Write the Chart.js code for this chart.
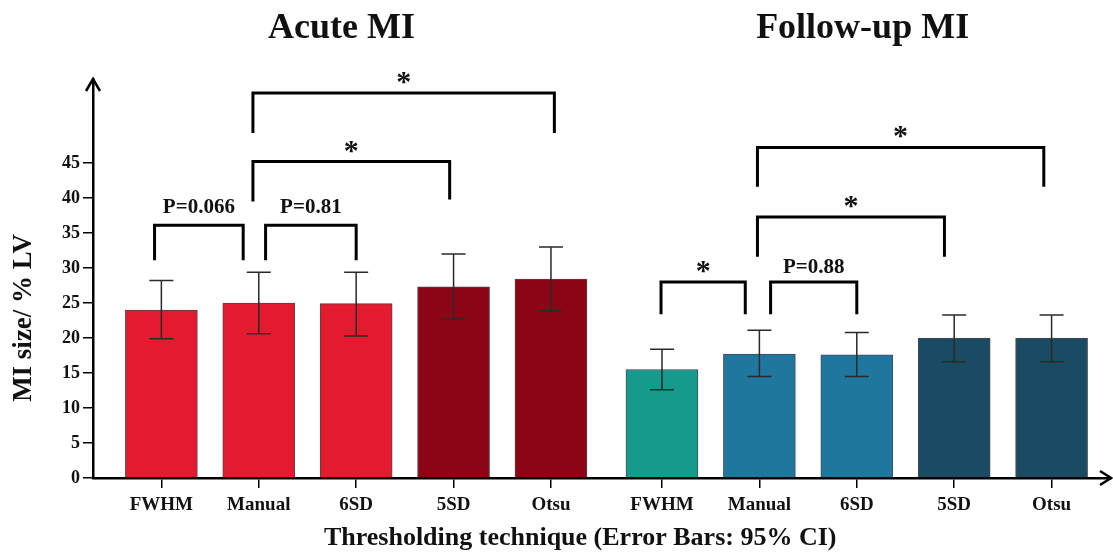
<!DOCTYPE html>
<html>
<head>
<meta charset="utf-8">
<title>MI size</title>
<script src="https://cdn.jsdelivr.net/npm/chart.js@4.4.0/dist/chart.umd.min.js"></script>
<style>
  body { margin: 0; background: #fff; }
  #wrap { width: 1113px; height: 557px; }
</style>
</head>
<body>
<div id="wrap"><canvas id="chart"></canvas></div>
<script>
// values
var techniques = ["FWHM", "Manual", "6SD", "5SD", "Otsu"];
var groupTitles = ["Acute MI", "Follow-up MI"];
var xTitle = "Thresholding technique (Error Bars: 95% CI)";
var yTitle = "MI size/ % LV";

var acuteMean = [24.0, 25.0, 24.9, 27.3, 28.4];
var acuteLow  = [19.9, 20.6, 20.3, 22.7, 23.9];
var acuteHigh = [28.2, 29.4, 29.4, 32.0, 33.0];

var followMean = [15.5, 17.7, 17.6, 20.0, 20.0];
var followLow  = [12.6, 14.5, 14.5, 16.6, 16.6];
var followHigh = [18.4, 21.1, 20.8, 23.3, 23.3];

var yTicks = [0, 5, 10, 15, 20, 25, 30, 35, 40, 45];

// significance brackets: group, from bar, to bar, label
var sigLabels = [
  [0, 0, 1, "P=0.066"],
  [0, 1, 2, "P=0.81"],
  [0, 1, 3, "*"],
  [0, 1, 4, "*"],
  [1, 0, 1, "*"],
  [1, 1, 2, "P=0.88"],
  [1, 1, 3, "*"],
  [1, 1, 4, "*"]
];
// bracket geometry (shift of the ends in bar slots, heights in axis units)
var sigShape = [
  { s1: -0.07, s2: -0.16, top: 36.1, end1: 31.1, end2: 31.1, text: 38.7 },
  { s1: 0.07,  s2: 0.0,   top: 36.1, end1: 31.1, end2: 31.1, text: 38.7 },
  { s1: -0.06, s2: -0.04, top: 45.2, end1: 39.5, end2: 39.8, text: 47.1 },
  { s1: -0.06, s2: 0.035, top: 55.0, end1: 49.3, end2: 49.3, text: 57.0 },
  { s1: -0.01, s2: -0.145, top: 28.0, end1: 23.4, end2: 23.4, text: 30.0 },
  { s1: 0.115, s2: 0.0,   top: 28.0, end1: 23.4, end2: 23.4, text: 30.0 },
  { s1: -0.02, s2: -0.1,  top: 37.3, end1: 31.6, end2: 31.6, text: 39.3 },
  { s1: -0.02, s2: -0.08, top: 47.2, end1: 41.6, end2: 41.6, text: 49.2 }
];

var GROUP_SHIFT = 5.14;   // second panel starts a bit more than one slot later
var SERIF = '"Liberation Serif", "Times New Roman", serif';

var acuteColors = ["#e41b2e", "#e41b2e", "#e41b2e", "#8c0517", "#8c0517"];
var followColors = ["#17998c", "#1f77a0", "#1f77a0", "#1b4b63", "#1b4b63"];

function posOf(g, i) { return i + (g === 1 ? GROUP_SHIFT : 0); }

var lows = [acuteLow, followLow];
var highs = [acuteHigh, followHigh];

var tickPos = [];
var tickText = [];
[0, 1].forEach(function (g) {
  techniques.forEach(function (t, i) { tickPos.push(posOf(g, i)); tickText.push(t); });
});

function points(g, arr) {
  return arr.map(function (v, i) { return { x: posOf(g, i), y: v }; });
}

var overlay = {
  id: 'overlay',
  afterDatasetsDraw: function (chart) {
    var ctx = chart.ctx, xs = chart.scales.x, ys = chart.scales.y;
    ctx.save();
    ctx.strokeStyle = '#2a2a2a';
    ctx.lineWidth = 1.5;
    [0, 1].forEach(function (g) {
      lows[g].forEach(function (lo, i) {
        var x = xs.getPixelForValue(posOf(g, i));
        var y1 = ys.getPixelForValue(lo), y2 = ys.getPixelForValue(highs[g][i]);
        ctx.beginPath();
        ctx.moveTo(x, y1); ctx.lineTo(x, y2);
        ctx.moveTo(x - 12, y1); ctx.lineTo(x + 12, y1);
        ctx.moveTo(x - 12, y2); ctx.lineTo(x + 12, y2);
        ctx.stroke();
      });
    });
    ctx.restore();
  },
  afterDraw: function (chart) {
    var ctx = chart.ctx, xs = chart.scales.x, ys = chart.scales.y, a = chart.chartArea;
    ctx.save();
    // axis arrows
    ctx.strokeStyle = '#000';
    ctx.lineWidth = 2.5;
    ctx.beginPath();
    ctx.moveTo(a.left - 7, a.top + 12); ctx.lineTo(a.left, a.top); ctx.lineTo(a.left + 7, a.top + 12);
    ctx.moveTo(a.right - 11, a.bottom - 7); ctx.lineTo(a.right, a.bottom); ctx.lineTo(a.right - 11, a.bottom + 7);
    ctx.stroke();

    // significance brackets
    ctx.lineWidth = 3;
    ctx.lineJoin = 'miter';
    ctx.fillStyle = '#111';
    ctx.textAlign = 'center';
    sigLabels.forEach(function (b, k) {
      var s = sigShape[k];
      var x1 = xs.getPixelForValue(posOf(b[0], b[1]) + s.s1);
      var x2 = xs.getPixelForValue(posOf(b[0], b[2]) + s.s2);
      var yt = ys.getPixelForValue(s.top);
      ctx.beginPath();
      ctx.moveTo(x1, ys.getPixelForValue(s.end1));
      ctx.lineTo(x1, yt);
      ctx.lineTo(x2, yt);
      ctx.lineTo(x2, ys.getPixelForValue(s.end2));
      ctx.stroke();
      var ty = ys.getPixelForValue(s.text);
      ctx.textBaseline = 'middle';
      if (b[3] === '*') {
        ctx.font = 'bold 30px ' + SERIF;
        ctx.fillText(b[3], (x1 + x2) / 2, ty + 4);
      } else {
        ctx.font = 'bold 21px ' + SERIF;
        ctx.fillText(b[3], (x1 + x2) / 2, ty);
      }
    });

    // panel titles
    ctx.font = 'bold 36px ' + SERIF;
    ctx.textBaseline = 'alphabetic';
    ctx.fillText(groupTitles[0], xs.getPixelForValue(posOf(0, 1.85)), 38);
    ctx.fillText(groupTitles[1], xs.getPixelForValue(posOf(1, 2.06)), 38);

    // x axis title, centred a little left of the middle as in the figure
    ctx.font = 'bold 26px ' + SERIF;
    ctx.fillText(xTitle, xs.getPixelForValue(posOf(0, 4.3)), 545);

    // y axis title
    ctx.translate(24, 318);
    ctx.rotate(-Math.PI / 2);
    ctx.font = 'bold 27px ' + SERIF;
    ctx.textBaseline = 'middle';
    ctx.fillText(yTitle, 0, 0);
    ctx.restore();
  }
};

new Chart(document.getElementById('chart'), {
  type: 'bar',
  data: {
    datasets: [
      {
        label: groupTitles[0],
        data: points(0, acuteMean),
        backgroundColor: acuteColors,
        borderColor: 'rgba(20,10,10,0.75)',
        borderWidth: 1,
        barThickness: 72,
        grouped: false
      },
      {
        label: groupTitles[1],
        data: points(1, followMean),
        backgroundColor: followColors,
        borderColor: 'rgba(10,15,20,0.75)',
        borderWidth: 1,
        barThickness: 72,
        grouped: false
      }
    ]
  },
  options: {
    responsive: true,
    maintainAspectRatio: false,
    animation: false,
    devicePixelRatio: 1,
    layout: { padding: { top: 79, right: 2, left: 0, bottom: 0 } },
    plugins: { legend: { display: false }, tooltip: { enabled: false } },
    scales: {
      x: {
        type: 'linear',
        min: -0.702,
        max: 9.75,
        offset: false,
        afterFit: function (s) { s.height = 79; },
        afterBuildTicks: function (s) { s.ticks = tickPos.map(function (p) { return { value: p }; }); },
        grid: { offset: false, drawOnChartArea: false, drawTicks: true, tickLength: 10, color: '#000', lineWidth: 1.5 },
        border: { display: true, color: '#000', width: 2.5 },
        ticks: {
          color: '#111',
          padding: 6,
          maxRotation: 0,
          autoSkip: false,
          font: { family: SERIF, size: 19, weight: 'bold' },
          callback: function (v, i) { return tickText[i]; }
        },
        title: { display: false }
      },
      y: {
        min: 0,
        max: 57,
        afterFit: function (s) { s.width = 93; },
        afterBuildTicks: function (s) { s.ticks = yTicks.map(function (v) { return { value: v }; }); },
        grid: { drawOnChartArea: false, drawTicks: true, tickLength: 10, color: '#000', lineWidth: 1.5 },
        border: { display: true, color: '#000', width: 2.5 },
        ticks: {
          color: '#111',
          padding: 3,
          font: { family: SERIF, size: 18, weight: 'bold' }
        }
      }
    }
  },
  plugins: [overlay]
});
</script>
</body>
</html>
